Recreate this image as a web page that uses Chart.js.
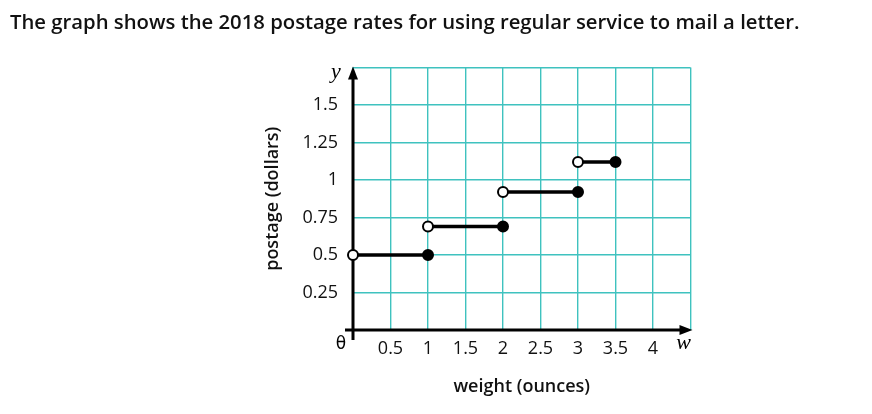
<!DOCTYPE html>
<html>
<head>
<meta charset="utf-8">
<script src="https://cdn.jsdelivr.net/npm/chart.js@4"></script>
<style>
  html, body { margin: 0; padding: 0; background: #ffffff; }
  #wrap { position: relative; width: 872px; height: 414px; }
  #postage-chart { width: 872px; height: 414px; }
  #heading {
    position: absolute; left: 10px; top: 7px;
    font-family: "Open Sans", sans-serif; font-weight: 600; font-size: 20.3px;
    color: #111111; white-space: nowrap;
  }
</style>
</head>
<body>
<div id="wrap">
  <canvas id="postage-chart" width="872" height="414"></canvas>
  <div id="heading">The graph shows the 2018 postage rates for using regular service to mail a letter.</div>
</div>
<script>
// step pieces: postage holds from (start, open) to (end, closed]
const stepStart = [0, 1, 2, 3];
const stepEnd = [1, 2, 3, 3.5];
const rates = [0.5, 0.69, 0.92, 1.12];

const xTickValues = [0.5, 1, 1.5, 2, 2.5, 3, 3.5, 4];
const xTickLabels = ['0.5', '1', '1.5', '2', '2.5', '3', '3.5', '4'];
const yTickValues = [0.25, 0.5, 0.75, 1, 1.25, 1.5];
const yTickLabels = ['0.25', '0.5', '0.75', '1', '1.25', '1.5'];

const gridColor = '#3fc2bf';
const ink = '#000000';

const datasets = rates.map(function(rate, i) {
    return {
        data: [{ x: stepStart[i], y: rate }, { x: stepEnd[i], y: rate }],
        showLine: true,
        clip: false,
        borderColor: ink,
        borderWidth: 3.5,
        pointRadius: 5,
        pointBorderWidth: 2,
        pointBorderColor: ink,
        pointBackgroundColor: ['#ffffff', ink]
    };
});

// axis lines with arrowheads, plus the y / w / origin marks
const axesPlugin = {
    id: 'axes',
    beforeDatasetsDraw(chart) {
        const ctx = chart.ctx;
        const x0 = chart.scales.x.getPixelForValue(0);
        const y0 = chart.scales.y.getPixelForValue(0);
        const top = chart.chartArea.top;
        const right = chart.chartArea.right;
        ctx.save();
        ctx.strokeStyle = ink;
        ctx.fillStyle = ink;
        ctx.lineWidth = 3;
        ctx.beginPath();
        ctx.moveTo(x0, y0 + 10);
        ctx.lineTo(x0, top + 8);
        ctx.moveTo(x0 - 8, y0);
        ctx.lineTo(right - 8, y0);
        ctx.stroke();
        // arrow heads
        ctx.beginPath();
        ctx.moveTo(x0, top - 1);
        ctx.lineTo(x0 - 5, top + 12);
        ctx.lineTo(x0 + 5, top + 12);
        ctx.closePath();
        ctx.fill();
        ctx.beginPath();
        ctx.moveTo(right + 2, y0);
        ctx.lineTo(right - 11, y0 - 5);
        ctx.lineTo(right - 11, y0 + 5);
        ctx.closePath();
        ctx.fill();
        ctx.restore();
    },
    afterDraw(chart) {
        const ctx = chart.ctx;
        const x0 = chart.scales.x.getPixelForValue(0);
        const y0 = chart.scales.y.getPixelForValue(0);
        const top = chart.chartArea.top;
        const right = chart.chartArea.right;
        ctx.save();
        ctx.fillStyle = ink;
        ctx.textAlign = 'center';
        ctx.textBaseline = 'middle';
        ctx.font = 'italic 22px "Liberation Serif", serif';
        ctx.fillText('y', x0 - 17, top + 5);
        ctx.fillText('w', right - 7, y0 + 13);
        ctx.font = '17px "DejaVu Sans", sans-serif';
        ctx.fillText('θ', x0 - 12, y0 + 15);
        ctx.restore();
    }
};

new Chart(document.getElementById('postage-chart'), {
    type: 'scatter',
    data: { datasets: datasets },
    options: {
        responsive: false,
        animation: false,
        layout: {
            padding: { left: 262, top: 67.5, right: 181.5, bottom: 0 }
        },
        scales: {
            x: {
                type: 'linear',
                min: 0,
                max: 4.5,
                afterFit: function(scale) { scale.height = 84; },
                grid: { color: gridColor, lineWidth: 1.4, drawTicks: false },
                border: { display: false },
                ticks: {
                    stepSize: 0.5,
                    padding: 8,
                    color: '#111111',
                    font: { family: 'Open Sans', size: 18, weight: '500' },
                    maxRotation: 0,
                    autoSkip: false,
                    callback: function(value) {
                        const i = xTickValues.indexOf(value);
                        return i >= 0 ? xTickLabels[i] : '';
                    }
                },
                title: {
                    display: true,
                    text: 'weight (ounces)',
                    color: '#111111',
                    font: { family: 'Open Sans', size: 18, weight: '600' },
                    padding: { top: 0, bottom: 16 }
                }
            },
            y: {
                type: 'linear',
                min: 0,
                max: 1.75,
                afterFit: function(scale) { scale.width = 91; },
                grid: { color: gridColor, lineWidth: 1.4, drawTicks: false },
                border: { display: false },
                ticks: {
                    stepSize: 0.25,
                    padding: 15,
                    color: '#111111',
                    font: { family: 'Open Sans', size: 18, weight: '500' },
                    autoSkip: false,
                    callback: function(value) {
                        const i = yTickValues.indexOf(value);
                        return i >= 0 ? yTickLabels[i] : '';
                    }
                },
                title: {
                    display: true,
                    text: 'postage (dollars)',
                    color: '#111111',
                    font: { family: 'Open Sans', size: 18, weight: '600' },
                    padding: { top: 0, bottom: 0 }
                }
            }
        },
        plugins: {
            legend: { display: false },
            tooltip: { enabled: false }
        }
    },
    plugins: [axesPlugin]
});
</script>
</body>
</html>
